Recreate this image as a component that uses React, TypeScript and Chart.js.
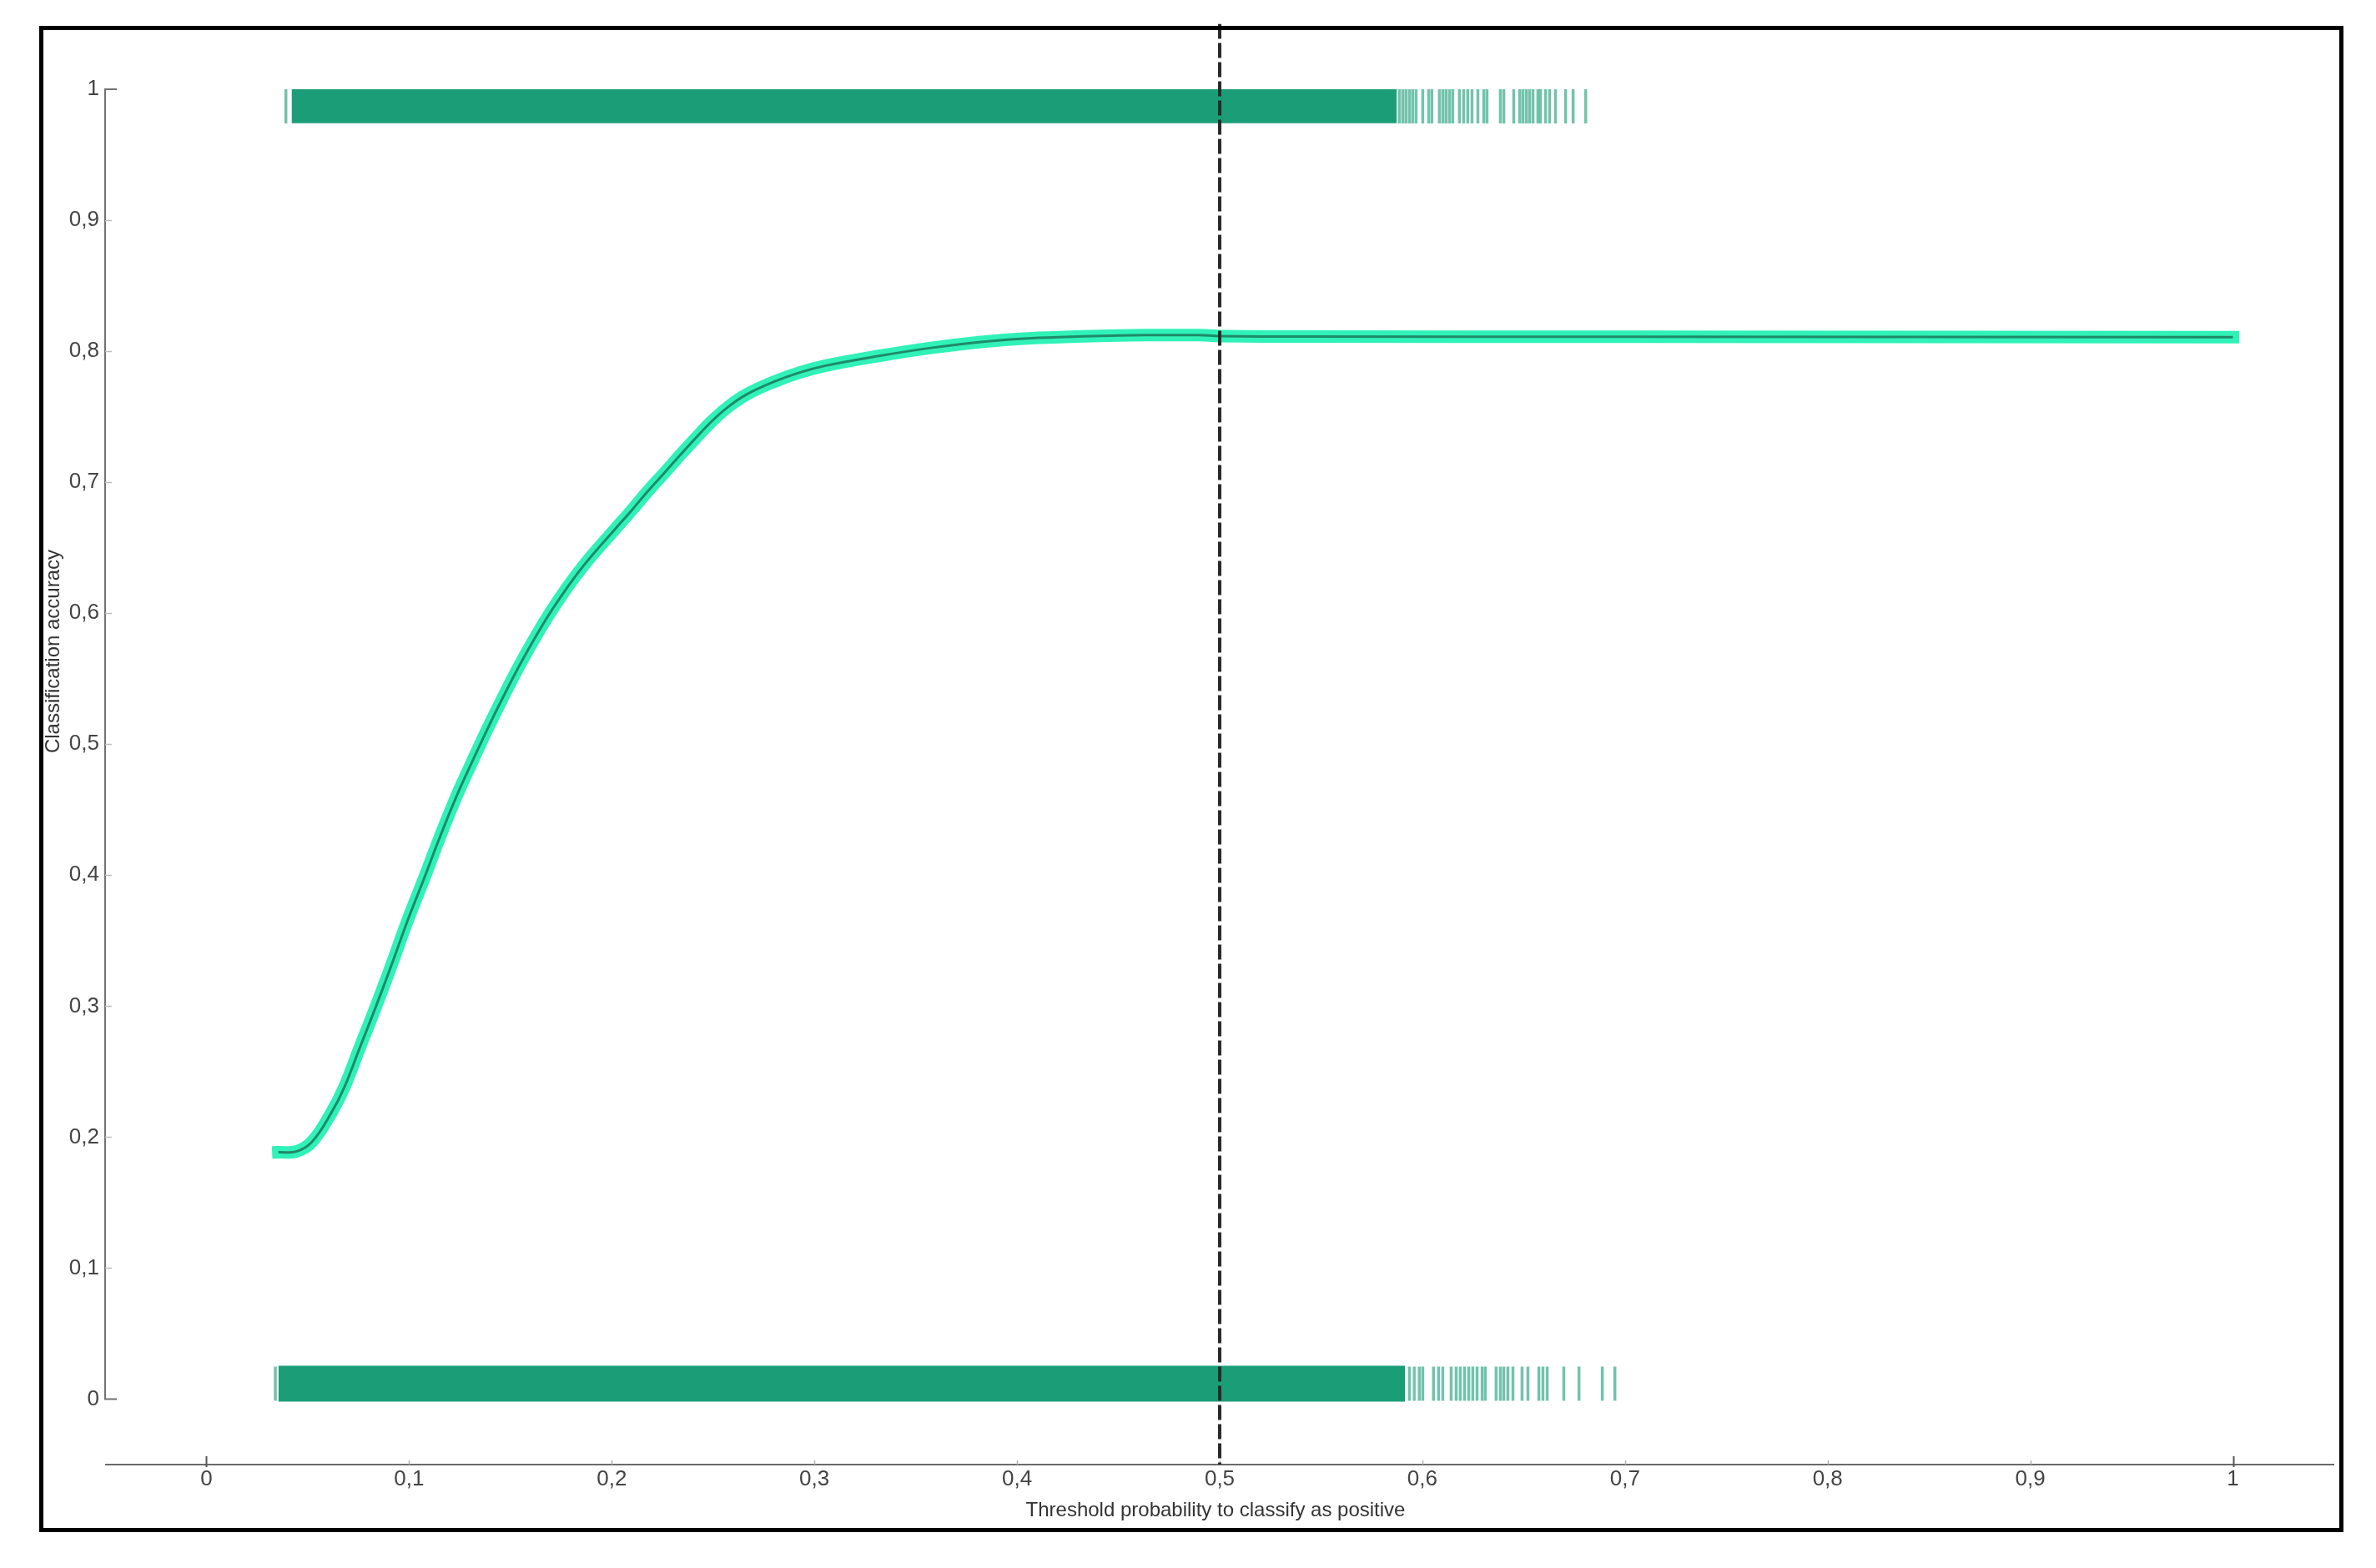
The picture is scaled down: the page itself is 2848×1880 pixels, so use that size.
import { useEffect, useRef } from "react";
import { Chart, registerables } from "chart.js";

Chart.register(...registerables);

// ---------- data ----------
const xTickValues = [0, 0.1, 0.2, 0.3, 0.4, 0.5, 0.6, 0.7, 0.8, 0.9, 1];
const xTickLabels = ["0", "0,1", "0,2", "0,3", "0,4", "0,5", "0,6", "0,7", "0,8", "0,9", "1"];
const yTickValues = [0, 0.1, 0.2, 0.3, 0.4, 0.5, 0.6, 0.7, 0.8, 0.9, 1];
const yTickLabels = ["0", "0,1", "0,2", "0,3", "0,4", "0,5", "0,6", "0,7", "0,8", "0,9", "1"];

const xTitle = "Threshold probability to classify as positive";
const yTitle = "Classification accuracy";

const curveX = [
  0.0355, 0.0443, 0.0521, 0.0616, 0.0679, 0.0758, 0.0837, 0.0915, 0.0993, 0.1074,
  0.1153, 0.1232, 0.1311, 0.1389, 0.1467, 0.1546, 0.1626, 0.1705, 0.1784, 0.1862,
  0.1941, 0.202, 0.2098, 0.2176, 0.2257, 0.2336, 0.2415, 0.2494, 0.2572, 0.2662,
  0.2793, 0.2924, 0.3056, 0.3318, 0.3582, 0.3845, 0.4106, 0.4369, 0.4633, 0.4896,
  0.5, 0.542, 0.7, 1.0,
];
const curveY = [
  0.1885, 0.189, 0.1965, 0.2185, 0.2376, 0.2688, 0.3, 0.3322, 0.3655, 0.3975,
  0.4295, 0.4595, 0.4865, 0.5124, 0.5369, 0.5605, 0.5825, 0.6025, 0.6205, 0.6365,
  0.651, 0.6648, 0.6785, 0.6928, 0.7067, 0.7204, 0.7338, 0.7466, 0.7572, 0.7667,
  0.7762, 0.7836, 0.789, 0.7964, 0.8027, 0.8074, 0.8102, 0.8116, 0.8123, 0.8123,
  0.8116, 0.8112, 0.811, 0.8108,
];

const thresholdX = 0.5;

// dense (solid) part of the rugs
const topBandX = [0.042, 0.5874];
const topBandTop = 1.0;
const topBandBottom = 0.974;
const bottomBandX = [0.0355, 0.5915];
const bottomBandTop = 0.0255;
const bottomBandBottom = -0.002;

// individual rug marks
const topRugY = 0.987;
const topRugX = [
  0.0392, 0.5886, 0.5903, 0.5919, 0.5936, 0.5952, 0.5969, 0.6002, 0.6031, 0.6047,
  0.6084, 0.6101, 0.6117, 0.6134, 0.615, 0.6183, 0.6204, 0.6224, 0.6245, 0.6274,
  0.6303, 0.6319, 0.6385, 0.6402, 0.6451, 0.648, 0.6496, 0.6513, 0.6529, 0.6546,
  0.657, 0.6583, 0.6608, 0.6628, 0.6657, 0.6707, 0.6744, 0.6806,
];
const bottomRugY = 0.0118;
const bottomRugX = [
  0.034, 0.5936, 0.596, 0.5985, 0.6002, 0.6055, 0.608, 0.6101, 0.6142, 0.6167,
  0.6187, 0.6208, 0.6229, 0.6249, 0.627, 0.6295, 0.6311, 0.6364, 0.6385, 0.6402,
  0.6422, 0.6447, 0.6492, 0.6521, 0.6575, 0.6595, 0.6616, 0.6698, 0.6773, 0.6888,
  0.695,
];

// ---------- styles ----------
const RUG = "#1b9e77";
const RUG_MARK = "rgba(27,158,119,0.62)";
const CURVE_OUTER = "#30f2b8";
const CURVE_INNER = "#1e8a69";
const FONT = '"Liberation Sans", Arial, sans-serif';

const axesPlugin = {
  id: "customAxes",
  beforeDatasetsDraw(chart: any) {
    const { ctx, chartArea, scales } = chart;
    const xs = scales.x;
    const ys = scales.y;
    ctx.save();
    const yAxisPix = chartArea.bottom;
    ctx.strokeStyle = "#6a6a6a";
    ctx.lineWidth = 2;
    ctx.beginPath();
    ctx.moveTo(chartArea.left, yAxisPix);
    ctx.lineTo(chartArea.right, yAxisPix);
    ctx.stroke();
    xTickValues.forEach((v, i) => {
      const px = Math.round(xs.getPixelForValue(v)) + 0.5;
      const major = i === 0 || i === xTickValues.length - 1;
      ctx.strokeStyle = major ? "#555" : "#b0b0b0";
      ctx.lineWidth = major ? 2 : 1.5;
      ctx.beginPath();
      ctx.moveTo(px, yAxisPix - (major ? 10 : 5));
      ctx.lineTo(px, yAxisPix + (major ? 3 : 0));
      ctx.stroke();
    });
    const xAxisPix = chartArea.left;
    const y0 = ys.getPixelForValue(0);
    const y1 = ys.getPixelForValue(1);
    ctx.strokeStyle = "#707070";
    ctx.lineWidth = 2;
    ctx.beginPath();
    ctx.moveTo(xAxisPix + 14, y1);
    ctx.lineTo(xAxisPix, y1);
    ctx.lineTo(xAxisPix, y0);
    ctx.lineTo(xAxisPix + 14, y0);
    ctx.stroke();
    yTickValues.forEach((v, i) => {
      if (i === 0 || i === yTickValues.length - 1) return;
      const py = Math.round(ys.getPixelForValue(v)) + 0.5;
      ctx.strokeStyle = "#bdbdbd";
      ctx.lineWidth = 1.5;
      ctx.beginPath();
      ctx.moveTo(xAxisPix, py);
      ctx.lineTo(xAxisPix + 8, py);
      ctx.stroke();
    });
    ctx.restore();
  },
  afterDraw(chart: any) {
    const { ctx } = chart;
    ctx.save();
    ctx.fillStyle = "#333";
    ctx.font = `24px ${FONT}`;
    ctx.textAlign = "center";
    ctx.textBaseline = "middle";
    ctx.fillText(xTitle, 1457, 1811);
    ctx.translate(64, 781);
    ctx.rotate(-Math.PI / 2);
    ctx.fillText(yTitle, 0, 0);
    ctx.restore();
    ctx.save();
    ctx.strokeStyle = "#000";
    ctx.lineWidth = 5;
    ctx.strokeRect(49.5, 33.5, 2757, 1801);
    ctx.restore();
  },
};

export default function App() {
  const ref = useRef<HTMLCanvasElement>(null);
  useEffect(() => {
    document.body.style.margin = "0";
    const canvas = ref.current!;
    const curve = curveX.map((x, i) => ({ x, y: curveY[i] }));
    const chart = new Chart(canvas, {
      type: "scatter",
      data: {
        datasets: [
          {
            type: "line",
            data: [
              { x: thresholdX, y: 1.05 },
              { x: thresholdX, y: -0.05 },
            ],
            borderColor: "#2a2a2a",
            borderWidth: 4,
            borderDash: [18, 5],
            pointRadius: 0,
            fill: false,
          } as any,
          {
            type: "line",
            data: curve,
            borderColor: CURVE_INNER,
            borderWidth: 3,
            pointRadius: 0,
            tension: 0.4,
            fill: false,
          } as any,
          {
            type: "line",
            data: curve,
            borderColor: CURVE_OUTER,
            borderWidth: 15,
            borderCapStyle: "square",
            borderJoinStyle: "round",
            pointRadius: 0,
            tension: 0.4,
            fill: false,
          } as any,
          {
            data: topRugX.map((x) => ({ x, y: topRugY })),
            pointStyle: "line",
            pointRotation: 90,
            pointRadius: 20.5,
            pointBorderWidth: 3.5,
            pointBorderColor: RUG_MARK,
            pointBackgroundColor: RUG_MARK,
            showLine: false,
          } as any,
          {
            data: bottomRugX.map((x) => ({ x, y: bottomRugY })),
            pointStyle: "line",
            pointRotation: 90,
            pointRadius: 20.5,
            pointBorderWidth: 3.5,
            pointBorderColor: RUG_MARK,
            pointBackgroundColor: RUG_MARK,
            showLine: false,
          } as any,
          {
            type: "line",
            data: topBandX.map((x) => ({ x, y: topBandTop })),
            borderColor: "rgba(0,0,0,0)",
            borderWidth: 0,
            backgroundColor: RUG,
            pointRadius: 0,
            fill: { value: topBandBottom },
          } as any,
          {
            type: "line",
            data: bottomBandX.map((x) => ({ x, y: bottomBandTop })),
            borderColor: "rgba(0,0,0,0)",
            borderWidth: 0,
            backgroundColor: RUG,
            pointRadius: 0,
            fill: { value: bottomBandBottom },
          } as any,
        ],
      },
      options: {
        responsive: false,
        animation: false,
        devicePixelRatio: 1,
        layout: { padding: { left: 0, right: 50, top: 28.5, bottom: 0 } },
        plugins: {
          legend: { display: false },
          tooltip: { enabled: false },
        },
        scales: {
          x: {
            type: "linear",
            min: -0.05,
            max: 1.05,
            grid: { display: false, drawTicks: false },
            border: { display: false },
            afterBuildTicks: (scale: any) => {
              scale.ticks = xTickValues.map((v) => ({ value: v }));
            },
            afterFit: (scale: any) => {
              scale.height = 124;
            },
            ticks: {
              padding: 2,
              color: "#444",
              font: { family: FONT, size: 26 },
              maxRotation: 0,
              autoSkip: false,
              callback: (_v: any, i: number) => xTickLabels[i],
            },
          },
          y: {
            type: "linear",
            min: -0.05,
            max: 1.05,
            grid: { display: false, drawTicks: false },
            border: { display: false },
            afterBuildTicks: (scale: any) => {
              scale.ticks = yTickValues.map((v) => ({ value: v }));
            },
            afterFit: (scale: any) => {
              scale.width = 126;
            },
            ticks: {
              padding: 7,
              color: "#444",
              font: { family: FONT, size: 26 },
              autoSkip: false,
              callback: (_v: any, i: number) => yTickLabels[i],
            },
          },
        },
      } as any,
      plugins: [axesPlugin],
    });
    return () => chart.destroy();
  }, []);
  return (
    <div style={{ position: "fixed", left: 0, top: 0, width: 2848, height: 1880, background: "#fff" }}>
      <canvas ref={ref} width={2848} height={1880} style={{ display: "block", width: 2848, height: 1880 }} />
    </div>
  );
}
